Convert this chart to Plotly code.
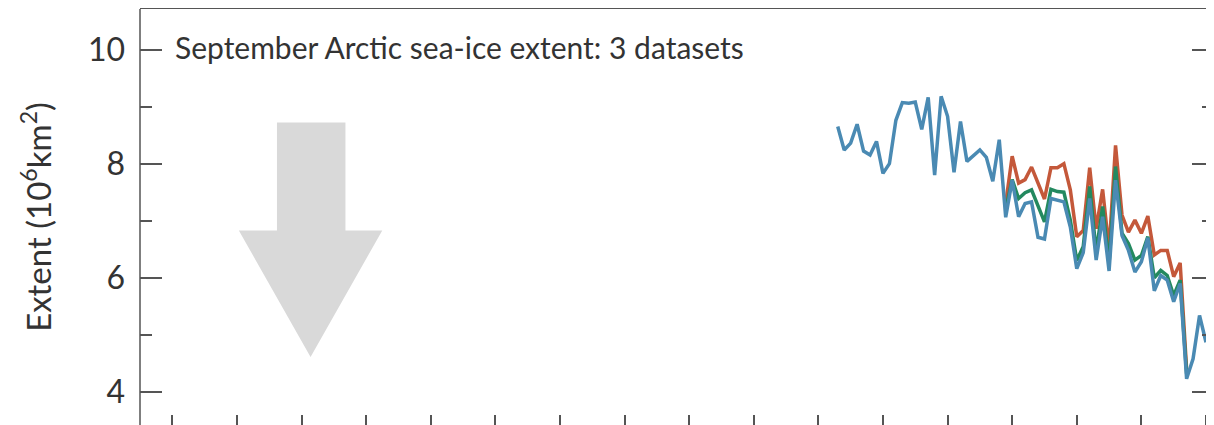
import plotly.graph_objects as go

# ---- data (September Arctic sea-ice extent, 10^6 km^2) ----
years_blue = list(range(1953, 2011))
blue = [8.65, 8.24, 8.36, 8.69, 8.22, 8.15, 8.39, 7.83, 8.00, 8.76,
        9.07, 9.06, 9.08, 8.60, 9.16, 7.80, 9.18, 8.83, 7.85, 8.74,
        8.04, 8.15, 8.24, 8.11, 7.69, 8.42, 7.06, 7.71, 7.07, 7.30,
        7.33, 6.71, 6.68, 7.39, 7.36, 7.33, 6.89, 6.16, 6.44, 7.39,
        6.31, 7.07, 6.12, 7.71, 6.74, 6.48, 6.10, 6.28, 6.70, 5.77,
        6.04, 5.96, 5.58, 5.90, 4.23, 4.58, 5.34, 4.87]

years_sat = list(range(1979, 2008))
green = [7.20, 7.72, 7.39, 7.49, 7.54, 7.25, 6.98, 7.55, 7.51, 7.50,
         7.01, 6.30, 6.55, 7.60, 6.45, 7.25, 6.25, 7.95, 6.78, 6.60,
         6.31, 6.39, 6.72, 6.00, 6.13, 6.04, 5.69, 5.96, 4.32]
red = [7.30, 8.13, 7.66, 7.72, 7.94, 7.65, 7.38, 7.93, 7.93, 8.00,
       7.54, 6.72, 6.83, 7.93, 6.86, 7.55, 6.50, 8.32, 7.10, 6.80,
       7.01, 6.78, 7.08, 6.40, 6.48, 6.48, 6.02, 6.26, 4.40]

y_tickvals = [4, 6, 8, 10]
y_ticktext = ["4", "6", "8", "10"]
title_text = "September Arctic sea-ice extent: 3 datasets"
y_title = "Extent (10<sup>6</sup>km<sup>2</sup>)"

# decorative arrow geometry (data units)
ARROW_SHAFT = (1866.2, 1876.8)
ARROW_HEAD = (1860.3, 1882.5)
ARROW_TIP_X = 1871.4
ARROW_TOP, ARROW_NECK, ARROW_TIP_Y = 8.72, 6.83, 4.61

X_RANGE = [1845.0, 2011.24]
Y_RANGE = [3.42, 10.71]

FONT = "Lato"
TXT = "#333333"
AX = "#555555"

fig = go.Figure()
fig.add_trace(go.Scatter(x=years_sat, y=red, mode="lines",
                         line=dict(color="#c4583a", width=3.5), name="red"))
fig.add_trace(go.Scatter(x=years_sat, y=green, mode="lines",
                         line=dict(color="#23895f", width=3.5), name="green"))
fig.add_trace(go.Scatter(x=years_blue, y=blue, mode="lines",
                         line=dict(color="#4a8ab3", width=3.5), name="blue"))

path = (f"M {ARROW_SHAFT[0]},{ARROW_TOP} L {ARROW_SHAFT[1]},{ARROW_TOP} "
        f"L {ARROW_SHAFT[1]},{ARROW_NECK} L {ARROW_HEAD[1]},{ARROW_NECK} "
        f"L {ARROW_TIP_X},{ARROW_TIP_Y} L {ARROW_HEAD[0]},{ARROW_NECK} "
        f"L {ARROW_SHAFT[0]},{ARROW_NECK} Z")
fig.add_shape(type="path", path=path, xref="x", yref="y",
              fillcolor="#d9d9d9", line=dict(width=0), layer="below")
# left frame line
fig.add_shape(type="line", xref="paper", yref="paper", x0=0, x1=0, y0=0, y1=1,
              line=dict(color=AX, width=1.5))

fig.add_annotation(text=title_text, xref="paper", yref="paper",
                   x=0.0305, y=0.909, xanchor="left", yanchor="middle",
                   showarrow=False, font=dict(family=FONT, size=30, color=TXT))

fig.update_layout(
    width=1206, height=417,
    margin=dict(l=132, r=0, t=1, b=0),
    paper_bgcolor="white", plot_bgcolor="white",
    showlegend=False,
    font=dict(family=FONT, color=TXT),
    xaxis=dict(range=X_RANGE, showgrid=False, zeroline=False,
               showline=True, mirror=True, linecolor=AX, linewidth=1.5,
               ticks="inside", ticklen=10, tickwidth=1.5, tickcolor=AX,
               tick0=1850, dtick=10, showticklabels=False),
    yaxis=dict(range=Y_RANGE, showgrid=False, zeroline=False,
               showline=False, mirror="ticks",
               ticks="inside", ticklen=22, tickwidth=1.5, tickcolor=AX,
               tickvals=y_tickvals, ticktext=y_ticktext,
               tickfont=dict(family=FONT, size=32, color=TXT),
               ticklabelstandoff=14,
               minor=dict(ticks="inside", ticklen=12, tickwidth=1.5,
                          tickcolor=AX, dtick=1, tick0=0),
               title=dict(text=y_title, standoff=26,
                          font=dict(family=FONT, size=33, color=TXT))),
)

fig.write_html("out.html")
